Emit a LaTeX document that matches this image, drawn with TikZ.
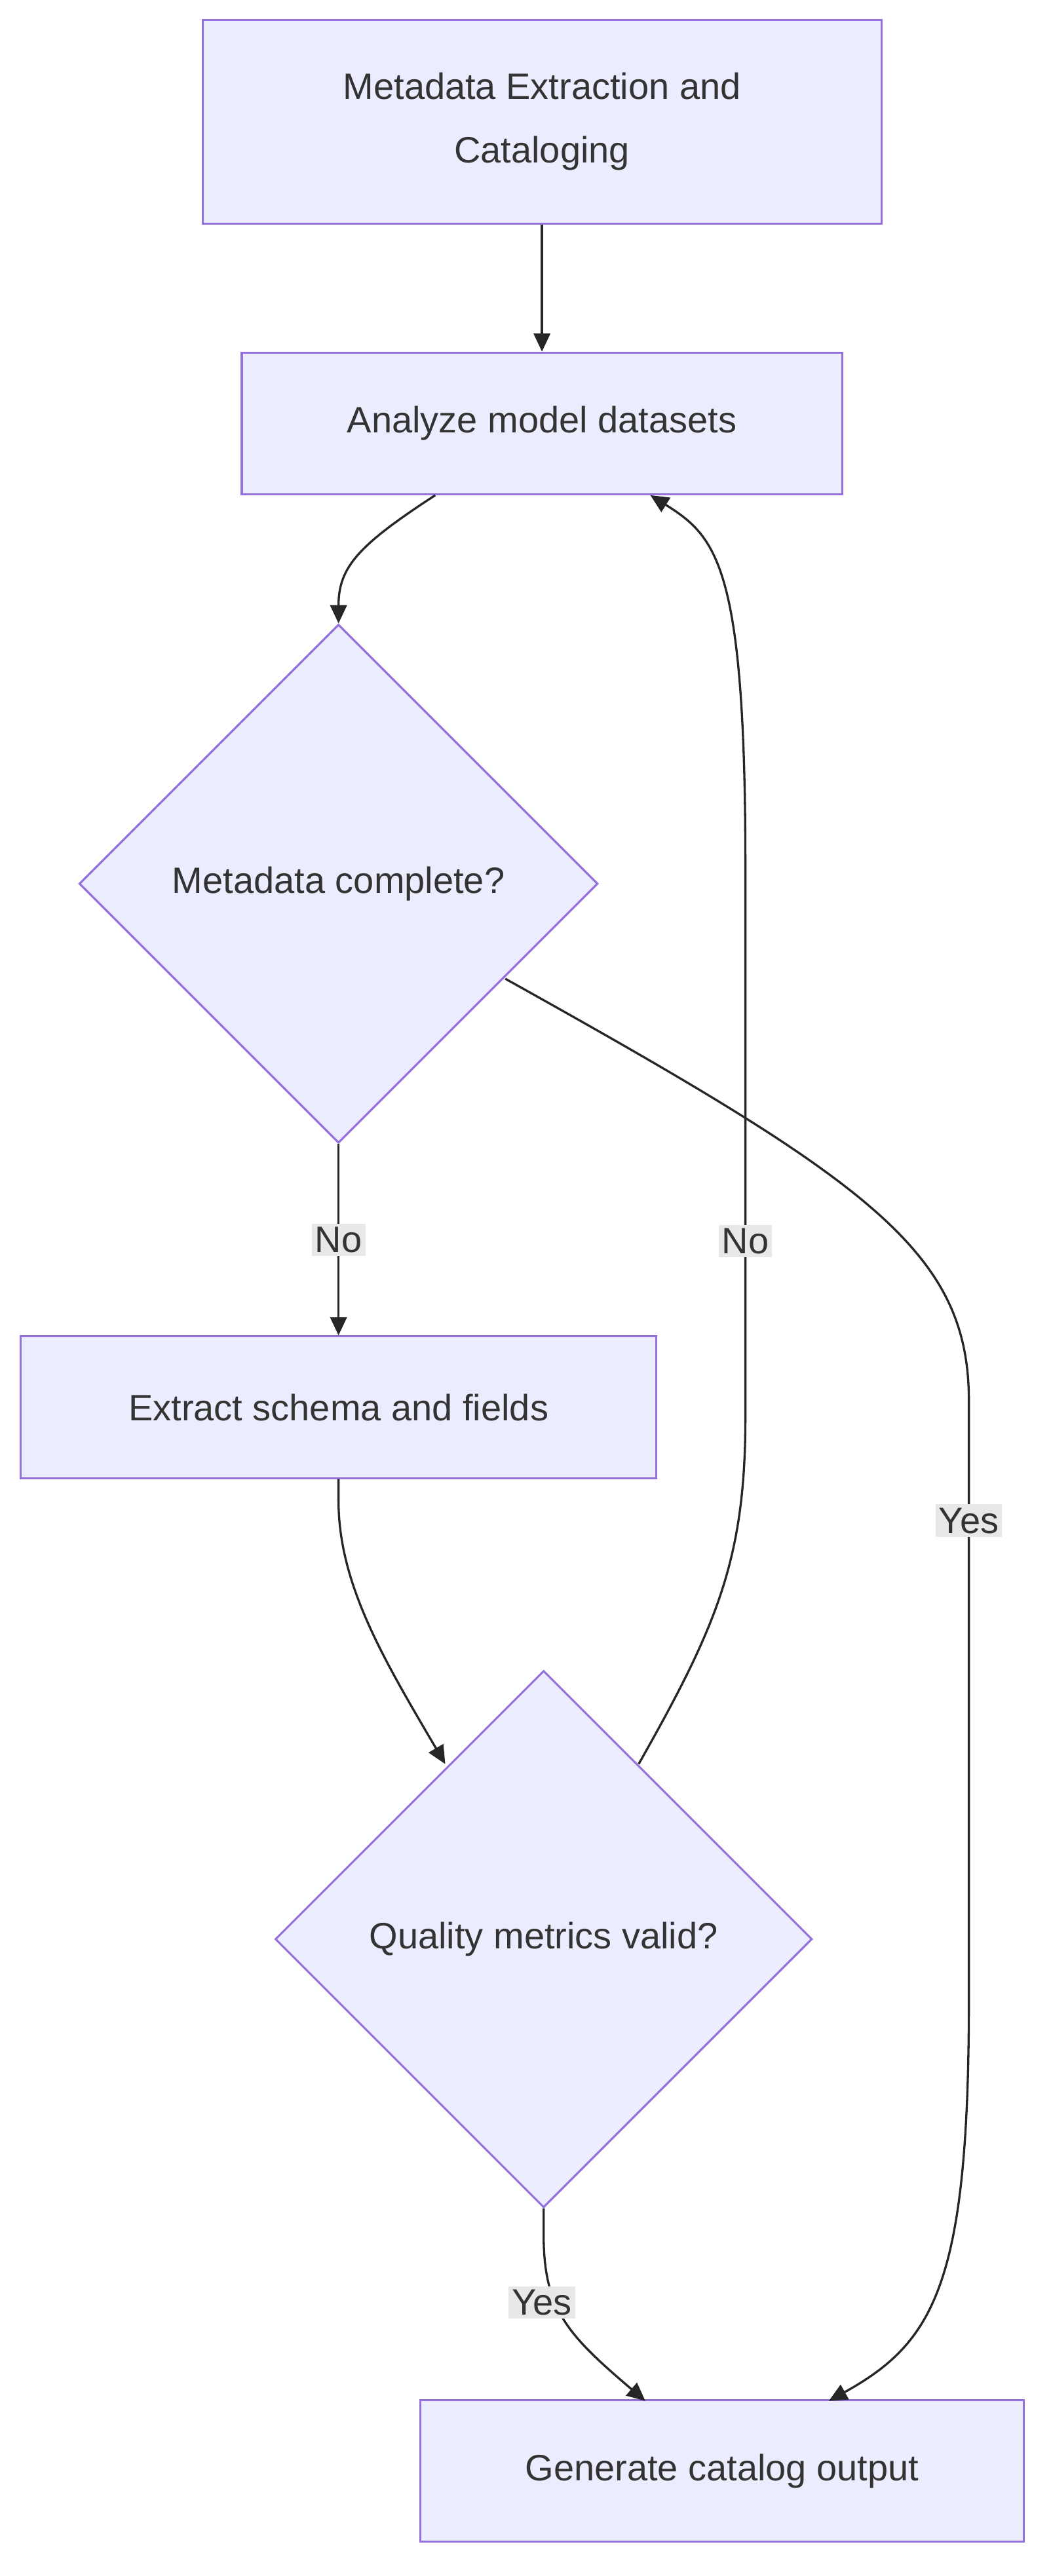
\documentclass[tikz,border=0pt]{standalone}
\usepackage{fontspec}
\setmainfont{Liberation Sans}
\usetikzlibrary{shapes.geometric,arrows.meta}
\begin{document}
\begin{tikzpicture}[x=1pt,y=-1pt,
  font=\fontsize{22}{38}\selectfont,
  box/.style={draw=violet!60!blue!70,fill=blue!7,line width=1.2pt,text=black!80,inner sep=0pt,align=center},
  dia/.style={box,diamond,shape aspect=1},
  lbl/.style={fill=black!9,text=black!80,inner sep=2pt},
  edge/.style={draw=black!85,line width=1.3pt,-{Triangle[length=11pt,width=10pt]}}]
\tikzset{box/.append style={draw={rgb,255:red,147;green,112;blue,219},fill={rgb,255:red,236;green,236;blue,255}}}
\useasboundingbox (0,0) rectangle (630,1545);
\node[box,minimum width=407pt,minimum height=122pt] (A) at (325,73) {Metadata Extraction and\\Cataloging};
\node[box,minimum width=360pt,minimum height=85pt] (B) at (325,254) {Analyze model datasets};
\node[dia,minimum width=311pt,minimum height=311pt] (C) at (203,530) {Metadata complete?};
\node[box,minimum width=381pt,minimum height=85pt] (D) at (203,844) {Extract schema and fields};
\node[dia,minimum width=322pt,minimum height=322pt] (E) at (326,1163) {Quality metrics valid?};
\node[box,minimum width=362pt,minimum height=85pt] (F) at (433,1482) {Generate catalog output};
\draw[edge] (A) -- (B);
\draw[edge] (261,297) .. controls (215,327) and (203,340) .. (C.north);
\draw[edge] (C.south) -- node[lbl]{No} (D.north);
\draw[edge] (303,587) .. controls (520,708) and (581,750) .. (581,840) -- node[lbl,pos=0.2]{Yes} (581,1200) .. controls (581,1370) and (560,1405) .. (497,1440);
\draw[edge] (D.south) -- (203,900) .. controls (203,950) and (230,995) .. (267,1058);
\draw[edge] (383,1058) .. controls (430,975) and (447,935) .. (447,850) -- node[lbl,pos=0.32]{No} (447,520) .. controls (447,340) and (430,322) .. (390,297);
\draw[edge] (E.south) -- (326,1340) .. controls (326,1385) and (340,1400) .. (387,1440);
\node[lbl] (y2) at (325,1381) {Yes};
\end{tikzpicture}
\end{document}
